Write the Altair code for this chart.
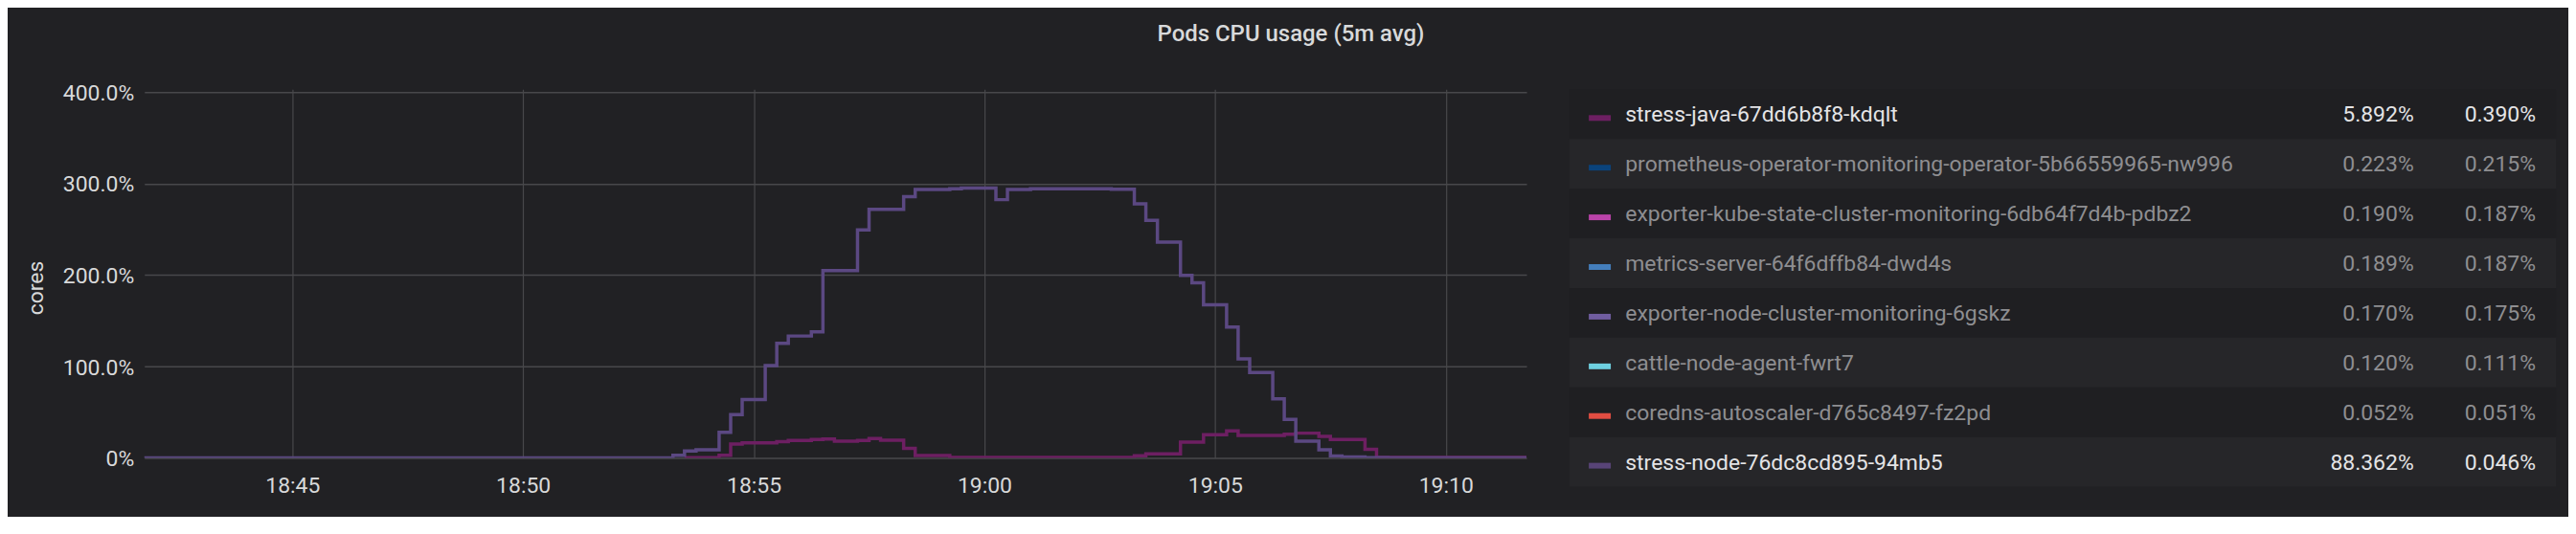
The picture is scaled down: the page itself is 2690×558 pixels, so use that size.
import altair as alt
import pandas as pd

DAY = "2021-03-01T"

# ---- time series (step-after change points, 15s resolution) ----
node_times = ["18:41:45", "18:53:15", "18:53:30", "18:53:45", "18:54:15", "18:54:30",
              "18:54:45", "18:55:15", "18:55:30", "18:55:45", "18:56:15", "18:56:30",
              "18:57:15", "18:57:30", "18:58:15", "18:58:30", "18:59:15", "18:59:30",
              "19:00:15", "19:00:30", "19:01:00", "19:02:45", "19:03:15", "19:03:30",
              "19:03:45", "19:04:15", "19:04:30", "19:04:45", "19:05:15", "19:05:30",
              "19:05:45", "19:06:15", "19:06:30", "19:06:45", "19:07:15", "19:07:30",
              "19:07:45", "19:08:15", "19:08:45", "19:11:45"]
node_values = [0.05, 3.1, 7.6, 9.0, 28.0, 47.5,
               64.0, 101.0, 125.4, 133.4, 138.0, 205.0,
               249.5, 272.0, 285.7, 293.7, 294.4, 295.2,
               282.5, 293.7, 294.3, 294.0, 278.0, 260.0,
               236.0, 199.7, 191.6, 167.6, 143.2, 108.4,
               93.4, 64.8, 42.2, 18.5, 9.1, 2.1,
               1.2, 0.4, 0.1, 0.05]

java_times = ["18:53:30", "18:54:15", "18:54:30", "18:54:45", "18:55:30", "18:55:45",
              "18:56:15", "18:56:30", "18:56:45", "18:57:15", "18:57:30", "18:57:45",
              "18:58:15", "18:58:30", "18:59:15", "19:03:15", "19:03:30", "19:04:15",
              "19:04:45", "19:05:15", "19:05:30", "19:06:30", "19:06:45", "19:07:15",
              "19:07:30", "19:08:15", "19:08:30", "19:11:45"]
java_values = [0.3, 3.0, 15.3, 16.7, 17.8, 19.2,
               20.2, 20.9, 18.5, 19.2, 21.3, 19.5,
               10.5, 2.8, 0.6, 2.5, 4.5, 17.4,
               25.5, 29.6, 24.7, 26.1, 27.2, 23.7,
               20.2, 9.5, 0.6, 0.4]

series_names = ["stress-java-67dd6b8f8-kdqlt", "stress-node-76dc8cd895-94mb5"]
series_colors = ["#6d1f62", "#5b4882"]

# ---- legend table ----
legend_names = [
    "stress-java-67dd6b8f8-kdqlt",
    "prometheus-operator-monitoring-operator-5b66559965-nw996",
    "exporter-kube-state-cluster-monitoring-6db64f7d4b-pdbz2",
    "metrics-server-64f6dffb84-dwd4s",
    "exporter-node-cluster-monitoring-6gskz",
    "cattle-node-agent-fwrt7",
    "coredns-autoscaler-d765c8497-fz2pd",
    "stress-node-76dc8cd895-94mb5",
]
legend_colors = ["#6D1F62", "#0A437C", "#BA43A9", "#447EBC", "#705DA0", "#6ED0E0", "#E24D42", "#584477"]
legend_avg = ["5.892%", "0.223%", "0.190%", "0.189%", "0.170%", "0.120%", "0.052%", "88.362%"]
legend_current = ["0.390%", "0.215%", "0.187%", "0.187%", "0.175%", "0.111%", "0.051%", "0.046%"]
legend_visible = [True, False, False, False, False, False, False, True]

FONT = "Roboto"
TEXT = "#d8d9da"
BG = "#212124"

ts = pd.concat([
    pd.DataFrame({"time": [DAY + t + "Z" for t in java_times], "value": java_values, "series": series_names[0]}),
    pd.DataFrame({"time": [DAY + t + "Z" for t in node_times], "value": node_values, "series": series_names[1]}),
], ignore_index=True)


def dt(h, m, s=0, ms=0):
    return alt.DateTime(year=2021, month=3, date=1, hours=h, minutes=m, seconds=s, milliseconds=ms, utc=True)


x_ticks = [dt(18, 45), dt(18, 50), dt(18, 55), dt(19, 0), dt(19, 5), dt(19, 10)]

plot = alt.Chart(ts).mark_line(interpolate="step-after", strokeWidth=3.5, clip=True).encode(
    x=alt.X("time:T",
            scale=alt.Scale(type="utc", domain=[dt(18, 41, 47, 500), dt(19, 11, 45)]),
            axis=alt.Axis(values=x_ticks, format="%H:%M", title=None, labelBaseline="alphabetic",
                          labelPadding=36, gridWidth=1.2)),
    y=alt.Y("value:Q",
            scale=alt.Scale(domain=[0, 403.13], nice=False),
            axis=alt.Axis(values=[0, 100, 200, 300, 400],
                          labelExpr="datum.value == 0 ? '0%' : format(datum.value, '.1f') + '%'",
                          labelBaseline="alphabetic", labelOffset=8, labelPadding=11,
                          title="cores", titleAngle=270, titleX=-106, titleY=207.5,
                          titleAlign="center", titleBaseline="alphabetic",
                          titleFontSize=23, titleFontWeight="normal", titleColor=TEXT,
                          titleFont=FONT, gridWidth=1.5)),
    color=alt.Color("series:N", scale=alt.Scale(domain=series_names, range=series_colors), legend=None),
).properties(width=1446, height=386)

leg = pd.DataFrame({
    "name": legend_names,
    "avg": legend_avg,
    "current": legend_current,
    "state": ["on" if v else "off" for v in legend_visible],
    "stripe": ["even" if i % 2 == 0 else "odd" for i in range(len(legend_names))],
})

col_scale = alt.Scale(domain=[0, 1, 2, 3], range=[31.7, 58.4, 883.4, 1011])
y_leg = alt.Y("name:N", sort=legend_names, scale=alt.Scale(paddingInner=0, paddingOuter=0), axis=None)
state_color = alt.Color("state:N", scale=alt.Scale(domain=["on", "off"], range=["#e4e4e6", "#8e8e91"]), legend=None)

stripes = alt.Chart(leg).mark_rect().encode(
    y=y_leg,
    color=alt.Color("stripe:N", scale=alt.Scale(domain=["even", "odd"], range=["#1f1f22", "#262629"]), legend=None),
)
swatch = alt.Chart(leg).mark_point(shape="M-1,0.09H1V0.61H-1Z", filled=True, size=529, opacity=1).encode(
    x=alt.XDatum(0, type="quantitative", scale=col_scale, axis=None),
    y=y_leg,
    color=alt.Color("name:N", scale=alt.Scale(domain=legend_names, range=legend_colors), legend=None),
)
names = alt.Chart(leg).mark_text(align="left", baseline="alphabetic", dy=8, fontSize=23, font=FONT).encode(
    x=alt.XDatum(1, type="quantitative", scale=col_scale, axis=None),
    y=y_leg, text="name:N", color=state_color,
)
avgs = alt.Chart(leg).mark_text(align="right", baseline="alphabetic", dy=8, fontSize=23, font=FONT).encode(
    x=alt.XDatum(2, type="quantitative", scale=col_scale, axis=None),
    y=y_leg, text="avg:N", color=state_color,
)
curs = alt.Chart(leg).mark_text(align="right", baseline="alphabetic", dy=8, fontSize=23, font=FONT).encode(
    x=alt.XDatum(3, type="quantitative", scale=col_scale, axis=None),
    y=y_leg, text="current:N", color=state_color,
)
legend = alt.layer(stripes, swatch, names, avgs, curs).resolve_scale(color="independent").properties(
    width=1032, height=416)

chart = alt.hconcat(plot, legend, spacing=43).properties(
    title=alt.TitleParams("Pods CPU usage (5m avg)", fontSize=24, fontWeight=500, color=TEXT,
                          font=FONT, anchor="middle", offset=38),
    padding={"left": 18, "top": 15, "right": 12, "bottom": 19},
    background=BG,
).configure_view(stroke="transparent").configure_axis(
    labelFont=FONT, labelFontSize=23, labelColor=TEXT, domain=False, ticks=False, tickSize=0,
    gridColor="#48484b",
)

chart.save("out.html", embed_options={"renderer": "svg", "actions": False})
